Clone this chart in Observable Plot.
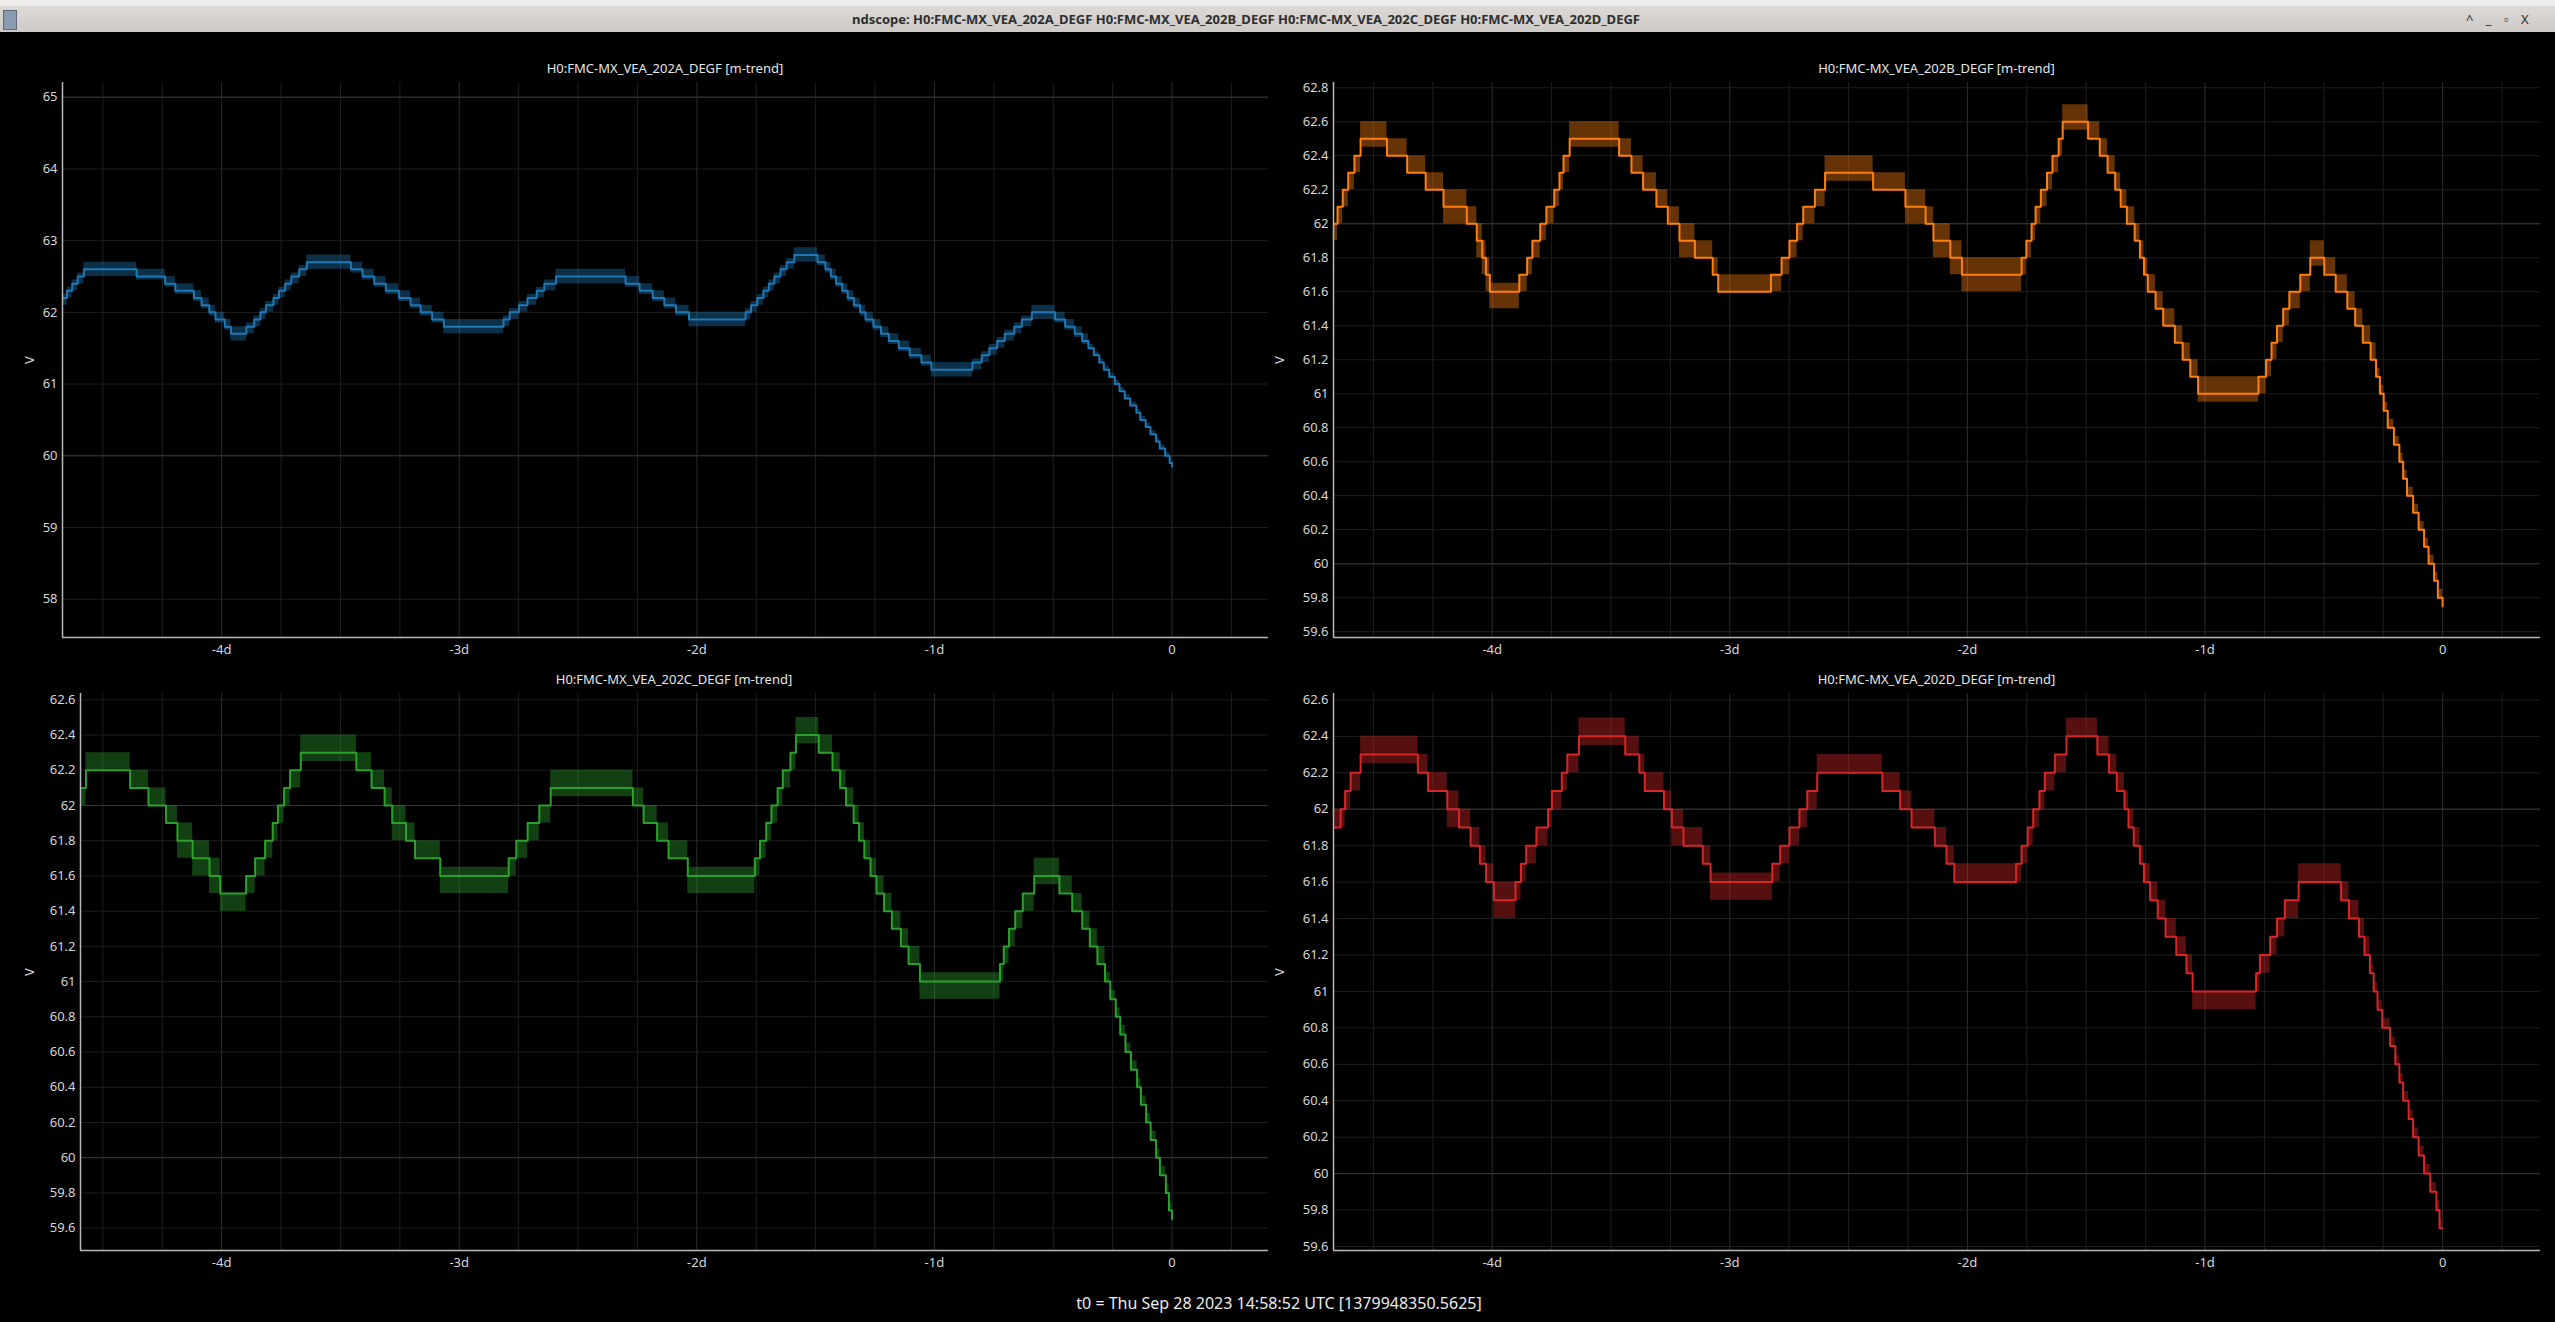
<!DOCTYPE html>
<html><head><meta charset="utf-8">
<script src="https://cdn.jsdelivr.net/npm/d3@7"></script>
<script src="https://cdn.jsdelivr.net/npm/@observablehq/plot@0.6"></script>
<style>
html,body{margin:0;padding:0;background:#000;}
body{width:2555px;height:1322px;overflow:hidden;position:relative;font-family:"Noto Sans",sans-serif;}
.abs{position:absolute;}
#strip{left:0;top:0;width:2555px;height:6px;background:#eeedec;}
#bar{left:0;top:6px;width:2555px;height:26px;background:linear-gradient(#dcd9d7,#cdc9c6);}
#wtitle{left:0;top:6px;width:2492px;height:26px;line-height:26px;text-align:center;font-size:13px;font-weight:bold;color:#2e2e2e;white-space:nowrap;}
#wbtn{left:2466px;top:6px;height:26px;line-height:26px;font-size:13px;color:#2e2e2e;word-spacing:9px;white-space:nowrap;}
.ptitle{font-size:13px;color:#e6e6e6;white-space:nowrap;transform:translate(-50%,-50%);}
.vlab{font-size:13px;color:#d8d8d8;transform:translate(-50%,-50%) rotate(-90deg);}
#caption{font-size:16px;color:#ececec;white-space:nowrap;transform:translate(-50%,-50%);}
</style></head><body>
<div id="strip" class="abs"></div>
<div id="bar" class="abs"></div>
<div class="abs" style="left:3px;top:10px;width:12px;height:18px;background:#8a9bb0;border:1px solid #5d6b7c"></div>
<div id="wtitle" class="abs">ndscope: H0:FMC-MX_VEA_202A_DEGF H0:FMC-MX_VEA_202B_DEGF H0:FMC-MX_VEA_202C_DEGF H0:FMC-MX_VEA_202D_DEGF</div>
<div id="wbtn" class="abs">^ _ ▫ X</div>
<script>
// ---------- tick / grid values ----------
const xTicks = [-4, -3, -2, -1, 0];
const xGridMinor = [-4.5, -4.25, -3.75, -3.5, -3.25, -2.75, -2.5, -2.25, -1.75, -1.5, -1.25, -0.75, -0.5, -0.25, 0.25];
const yTicksA = [58, 59, 60, 61, 62, 63, 64, 65];
const yMajorA = [60, 65];
const yTicksB = [59.6, 59.8, 60, 60.2, 60.4, 60.6, 60.8, 61, 61.2, 61.4, 61.6, 61.8, 62, 62.2, 62.4, 62.6, 62.8];
const yTicksCD = [59.6, 59.8, 60, 60.2, 60.4, 60.6, 60.8, 61, 61.2, 61.4, 61.6, 61.8, 62, 62.2, 62.4, 62.6];
const yMajorBCD = [60, 62];

// ---------- channel names ----------
const channels = ["H0:FMC-MX_VEA_202A_DEGF", "H0:FMC-MX_VEA_202B_DEGF", "H0:FMC-MX_VEA_202C_DEGF", "H0:FMC-MX_VEA_202D_DEGF"];
const colors = ["#1f77b4", "#ff7f0e", "#2ca02c", "#d62728"];

// ---------- 202A (days relative to t0; mean / min / max of minute trend) ----------
const tA = [-4.678,-4.651,-4.629,-4.606,-4.580,
  -4.358,-4.238,-4.195,-4.117,-4.085,-4.052,-4.026,-3.987,-3.961,
  -3.896,-3.863,-3.837,-3.814,-3.782,-3.759,-3.733,-3.707,-3.674,-3.642,
  -3.456,-3.407,-3.358,-3.309,-3.254,-3.205,-3.163,-3.114,-3.065,
  -2.814,-2.788,-2.749,-2.713,-2.674,-2.642,-2.593,
  -2.300,-2.241,-2.186,-2.137,-2.088,-2.033,
  -1.795,-1.772,-1.746,-1.720,-1.697,-1.674,-1.648,-1.622,-1.590,
  -1.492,-1.459,-1.436,-1.414,-1.388,-1.365,-1.339,-1.313,-1.290,-1.257,-1.225,-1.192,-1.150,-1.104,-1.055,-1.013,
  -0.840,-0.801,-0.769,-0.736,-0.704,-0.664,-0.632,-0.590,
  -0.492,-0.450,-0.410,-0.378,-0.352,-0.329,-0.306,-0.287,-0.264,-0.241,-0.221,-0.199,-0.176,-0.150,-0.134,-0.111,-0.091,-0.068,-0.052,-0.029,-0.010,0];
const meanA = [62.2,62.3,62.4,62.5,62.6,
  62.5,62.4,62.3,62.2,62.1,62.0,61.9,61.8,61.7,
  61.8,61.9,62.0,62.1,62.2,62.3,62.4,62.5,62.6,62.7,
  62.6,62.5,62.4,62.3,62.2,62.1,62.0,61.9,61.8,
  61.9,62.0,62.1,62.2,62.3,62.4,62.5,
  62.4,62.3,62.2,62.1,62.0,61.9,
  62.0,62.1,62.2,62.3,62.4,62.5,62.6,62.7,62.8,
  62.7,62.6,62.5,62.4,62.3,62.2,62.1,62.0,61.9,61.8,61.7,61.6,61.5,61.4,61.3,61.2,
  61.3,61.4,61.5,61.6,61.7,61.8,61.9,62.0,
  61.9,61.8,61.7,61.6,61.5,61.4,61.3,61.2,61.1,61.0,60.9,60.8,60.7,60.6,60.5,60.4,60.3,60.2,60.1,60.0,59.9,59.85];
const loA = [62.1,62.2,62.3,62.4,62.5,
  62.45,62.35,62.25,62.15,62.05,61.95,61.85,61.75,61.6,
  61.7,61.8,61.9,62.0,62.1,62.2,62.3,62.4,62.5,62.6,
  62.55,62.45,62.35,62.25,62.15,62.05,61.95,61.85,61.7,
  61.8,61.9,62.0,62.1,62.2,62.3,62.4,
  62.35,62.25,62.15,62.05,61.95,61.8,
  61.9,62.0,62.1,62.2,62.3,62.4,62.5,62.6,62.7,
  62.65,62.55,62.45,62.35,62.25,62.15,62.05,61.95,61.85,61.75,61.65,61.55,61.45,61.35,61.25,61.1,
  61.2,61.3,61.4,61.5,61.6,61.7,61.8,61.9,
  61.85,61.75,61.65,61.55,61.5,61.4,61.3,61.2,61.1,61.0,60.9,60.8,60.7,60.6,60.5,60.4,60.3,60.2,60.1,60.0,59.9,59.85];
const hiA = [62.25,62.35,62.45,62.55,62.7,
  62.6,62.5,62.4,62.3,62.2,62.1,62.0,61.9,61.8,
  61.85,61.95,62.05,62.15,62.25,62.35,62.45,62.55,62.65,62.8,
  62.7,62.6,62.5,62.4,62.3,62.2,62.1,62.0,61.9,
  61.95,62.05,62.15,62.25,62.35,62.45,62.6,
  62.5,62.4,62.3,62.2,62.1,62.0,
  62.05,62.15,62.25,62.35,62.45,62.55,62.65,62.75,62.9,
  62.8,62.7,62.6,62.5,62.4,62.3,62.2,62.1,62.0,61.9,61.8,61.7,61.6,61.5,61.4,61.3,
  61.35,61.45,61.55,61.65,61.75,61.85,61.95,62.1,
  62.0,61.9,61.8,61.7,61.55,61.45,61.35,61.25,61.15,61.05,60.95,60.85,60.75,60.65,60.55,60.45,60.35,60.25,60.15,60.05,59.95,59.9];

// ---------- 202B ----------
const tB = [-4.678,-4.651,-4.629,-4.606,-4.580,-4.554,
  -4.443,-4.358,-4.280,-4.205,-4.107,-4.065,-4.042,-4.026,-4.010,
  -3.886,-3.853,-3.831,-3.798,-3.772,-3.739,-3.717,-3.700,-3.674,
  -3.466,-3.414,-3.365,-3.309,-3.261,-3.212,-3.147,-3.072,-3.049,
  -2.827,-2.782,-2.749,-2.717,-2.691,-2.642,-2.599,
  -2.397,-2.261,-2.176,-2.143,-2.072,-2.023,
  -1.772,-1.752,-1.730,-1.713,-1.691,-1.665,-1.642,-1.616,-1.599,
  -1.492,-1.443,-1.410,-1.378,-1.355,-1.329,-1.296,-1.274,-1.257,-1.241,-1.208,-1.176,-1.127,-1.094,-1.062,-1.029,
  -0.775,-0.743,-0.720,-0.697,-0.671,-0.645,-0.599,-0.557,
  -0.498,-0.450,-0.401,-0.368,-0.336,-0.303,-0.280,-0.264,-0.248,-0.231,-0.205,-0.182,-0.166,-0.150,-0.124,-0.101,-0.078,-0.059,-0.036,-0.020,0];
const meanB = [62.0,62.1,62.2,62.3,62.4,62.5,
  62.4,62.3,62.2,62.1,62.0,61.9,61.8,61.7,61.6,
  61.7,61.8,61.9,62.0,62.1,62.2,62.3,62.4,62.5,
  62.4,62.3,62.2,62.1,62.0,61.9,61.8,61.7,61.6,
  61.7,61.8,61.9,62.0,62.1,62.2,62.3,
  62.2,62.1,62.0,61.9,61.8,61.7,
  61.8,61.9,62.0,62.1,62.2,62.3,62.4,62.5,62.6,
  62.5,62.4,62.3,62.2,62.1,62.0,61.9,61.8,61.7,61.6,61.5,61.4,61.3,61.2,61.1,61.0,
  61.1,61.2,61.3,61.4,61.5,61.6,61.7,61.8,
  61.7,61.6,61.5,61.4,61.3,61.2,61.1,61.0,60.9,60.8,60.7,60.6,60.5,60.4,60.3,60.2,60.1,60.0,59.9,59.8,59.75];
const loB = [61.9,62.0,62.1,62.2,62.3,62.45,
  62.4,62.3,62.2,62.0,62.0,61.8,61.7,61.6,61.5,
  61.6,61.7,61.8,61.9,62.0,62.1,62.2,62.3,62.45,
  62.4,62.3,62.2,62.1,62.0,61.8,61.8,61.7,61.6,
  61.6,61.7,61.8,61.9,62.0,62.1,62.25,
  62.2,62.0,62.0,61.8,61.7,61.6,
  61.7,61.8,61.9,62.0,62.1,62.2,62.3,62.4,62.55,
  62.5,62.4,62.3,62.2,62.1,62.0,61.9,61.8,61.7,61.6,61.5,61.4,61.3,61.2,61.1,60.95,
  61.0,61.1,61.2,61.3,61.4,61.5,61.6,61.75,
  61.7,61.6,61.5,61.4,61.3,61.2,61.1,61.0,60.9,60.8,60.7,60.6,60.5,60.4,60.3,60.2,60.1,60.0,59.9,59.8,59.75];
const hiB = [62.0,62.1,62.2,62.3,62.4,62.6,
  62.5,62.4,62.3,62.2,62.1,62.0,61.9,61.8,61.65,
  61.7,61.8,61.9,62.0,62.1,62.2,62.3,62.4,62.6,
  62.5,62.4,62.3,62.2,62.1,62.0,61.9,61.8,61.7,
  61.7,61.8,61.9,62.0,62.1,62.2,62.4,
  62.3,62.2,62.1,62.0,61.9,61.8,
  61.8,61.9,62.0,62.1,62.2,62.3,62.4,62.5,62.7,
  62.6,62.5,62.4,62.3,62.2,62.1,62.0,61.9,61.8,61.7,61.6,61.5,61.4,61.3,61.2,61.1,
  61.1,61.2,61.3,61.4,61.5,61.6,61.7,61.9,
  61.8,61.7,61.6,61.5,61.4,61.3,61.15,61.05,60.95,60.85,60.75,60.65,60.55,60.45,60.35,60.25,60.15,60.05,59.95,59.85,59.8];

// ---------- 202C ----------
const tC = [-4.680,-4.571,-4.385,-4.308,-4.234,-4.186,-4.122,-4.051,-4.006,
  -3.897,-3.859,-3.817,-3.785,-3.763,-3.737,-3.712,-3.667,
  -3.433,-3.369,-3.314,-3.282,-3.224,-3.186,-3.080,
  -2.792,-2.760,-2.712,-2.663,-2.615,
  -2.269,-2.224,-2.167,-2.119,-2.038,
  -1.756,-1.734,-1.708,-1.686,-1.660,-1.638,-1.606,-1.583,
  -1.487,-1.429,-1.397,-1.372,-1.340,-1.317,-1.295,-1.269,-1.244,-1.212,-1.179,-1.141,-1.109,-1.061,
  -0.724,-0.708,-0.686,-0.660,-0.628,-0.580,
  -0.474,-0.420,-0.378,-0.346,-0.314,-0.282,-0.260,-0.237,-0.218,-0.196,-0.173,-0.147,-0.131,-0.109,-0.090,-0.067,-0.051,-0.026,-0.013,0];
const meanC = [62.1,62.2,62.1,62.0,61.9,61.8,61.7,61.6,61.5,
  61.6,61.7,61.8,61.9,62.0,62.1,62.2,62.3,
  62.2,62.1,62.0,61.9,61.8,61.7,61.6,
  61.7,61.8,61.9,62.0,62.1,
  62.0,61.9,61.8,61.7,61.6,
  61.7,61.8,61.9,62.0,62.1,62.2,62.3,62.4,
  62.3,62.2,62.1,62.0,61.9,61.8,61.7,61.6,61.5,61.4,61.3,61.2,61.1,61.0,
  61.1,61.2,61.3,61.4,61.5,61.6,
  61.5,61.4,61.3,61.2,61.1,61.0,60.9,60.8,60.7,60.6,60.5,60.4,60.3,60.2,60.1,60.0,59.9,59.8,59.7,59.65];
const loC = [62.0,62.2,62.1,62.0,61.9,61.7,61.6,61.5,61.4,
  61.5,61.6,61.7,61.8,61.9,62.0,62.1,62.25,
  62.2,62.1,62.0,61.8,61.8,61.7,61.5,
  61.6,61.7,61.8,61.9,62.05,
  62.0,61.9,61.8,61.7,61.5,
  61.6,61.7,61.8,61.9,62.0,62.1,62.2,62.35,
  62.3,62.2,62.1,62.0,61.9,61.8,61.7,61.6,61.5,61.4,61.3,61.2,61.1,60.9,
  61.0,61.1,61.2,61.3,61.4,61.55,
  61.5,61.4,61.3,61.2,61.1,61.0,60.9,60.8,60.7,60.6,60.5,60.4,60.3,60.2,60.1,60.0,59.9,59.8,59.7,59.65];
const hiC = [62.1,62.3,62.2,62.1,62.0,61.9,61.8,61.7,61.5,
  61.6,61.7,61.8,61.9,62.0,62.1,62.2,62.4,
  62.3,62.2,62.1,62.0,61.9,61.8,61.65,
  61.7,61.8,61.9,62.0,62.2,
  62.1,62.0,61.9,61.8,61.65,
  61.7,61.8,61.9,62.0,62.1,62.2,62.3,62.5,
  62.4,62.3,62.2,62.1,62.0,61.9,61.8,61.7,61.6,61.5,61.4,61.3,61.2,61.05,
  61.1,61.2,61.3,61.4,61.5,61.7,
  61.6,61.5,61.4,61.3,61.2,61.05,60.95,60.85,60.75,60.65,60.55,60.45,60.35,60.25,60.15,60.05,59.95,59.85,59.75,59.7];

// ---------- 202D ----------
const tD = [-4.678,-4.638,-4.619,-4.596,-4.554,
  -4.313,-4.270,-4.189,-4.140,-4.091,-4.052,-4.026,-3.993,
  -3.902,-3.879,-3.857,-3.814,-3.765,-3.749,-3.707,-3.684,-3.635,
  -3.440,-3.381,-3.358,-3.277,-3.244,-3.195,-3.114,-3.081,
  -2.821,-2.788,-2.749,-2.707,-2.674,-2.632,
  -2.358,-2.283,-2.235,-2.137,-2.088,-2.055,
  -1.795,-1.772,-1.746,-1.723,-1.697,-1.674,-1.632,-1.583,
  -1.453,-1.404,-1.371,-1.339,-1.322,-1.300,-1.274,-1.257,-1.231,-1.199,-1.166,-1.121,-1.078,-1.052,
  -0.785,-0.769,-0.726,-0.697,-0.664,-0.606,
  -0.427,-0.394,-0.352,-0.329,-0.306,-0.290,-0.274,-0.254,-0.221,-0.199,-0.182,-0.166,-0.143,-0.124,-0.101,-0.078,-0.052,-0.026,-0.013,0];
const meanD = [61.9,62.0,62.1,62.2,62.3,
  62.2,62.1,62.0,61.9,61.8,61.7,61.6,61.5,
  61.6,61.7,61.8,61.9,62.0,62.1,62.2,62.3,62.4,
  62.3,62.2,62.1,62.0,61.9,61.8,61.7,61.6,
  61.7,61.8,61.9,62.0,62.1,62.2,
  62.1,62.0,61.9,61.8,61.7,61.6,
  61.7,61.8,61.9,62.0,62.1,62.2,62.3,62.4,
  62.3,62.2,62.1,62.0,61.9,61.8,61.7,61.6,61.5,61.4,61.3,61.2,61.1,61.0,
  61.1,61.2,61.3,61.4,61.5,61.6,
  61.5,61.4,61.3,61.2,61.1,61.0,60.9,60.8,60.7,60.6,60.5,60.4,60.3,60.2,60.1,60.0,59.9,59.8,59.7,59.7];
const loD = [61.9,61.9,62.0,62.1,62.25,
  62.2,62.1,61.9,61.9,61.8,61.7,61.6,61.4,
  61.5,61.6,61.7,61.8,61.9,62.0,62.1,62.2,62.35,
  62.3,62.2,62.1,62.0,61.8,61.8,61.7,61.5,
  61.6,61.7,61.8,61.9,62.0,62.2,
  62.1,62.0,61.9,61.8,61.7,61.6,
  61.6,61.7,61.8,61.9,62.0,62.1,62.2,62.4,
  62.3,62.2,62.1,62.0,61.9,61.8,61.7,61.6,61.5,61.4,61.3,61.2,61.1,60.9,
  61.0,61.1,61.2,61.3,61.4,61.6,
  61.5,61.4,61.3,61.2,61.1,61.0,60.9,60.8,60.7,60.6,60.5,60.4,60.3,60.2,60.1,60.0,59.9,59.8,59.7,59.7];
const hiD = [62.0,62.0,62.1,62.2,62.4,
  62.3,62.2,62.1,62.0,61.9,61.8,61.7,61.6,
  61.6,61.7,61.8,61.9,62.0,62.1,62.2,62.3,62.5,
  62.4,62.3,62.2,62.1,62.0,61.9,61.8,61.65,
  61.7,61.8,61.9,62.0,62.1,62.3,
  62.2,62.1,62.0,61.9,61.8,61.7,
  61.7,61.8,61.9,62.0,62.1,62.2,62.3,62.5,
  62.4,62.3,62.2,62.1,62.0,61.9,61.8,61.7,61.6,61.5,61.4,61.3,61.2,61.0,
  61.1,61.2,61.3,61.4,61.5,61.7,
  61.6,61.5,61.4,61.3,61.15,61.05,60.95,60.85,60.75,60.65,60.55,60.45,60.35,60.25,60.15,60.05,59.95,59.85,59.75,59.75];

const caption = "t0 = Thu Sep 28 2023 14:58:52 UTC [1379948350.5625]";

// ---------- drawing ----------
const fmtX = d => d === 0 ? "0" : `${d}d`;
const fmtY = d => String(Math.round(d * 10) / 10);

function addDiv(cls, text, x, y) {
  const el = document.createElement("div");
  el.className = "abs " + cls;
  el.textContent = text;
  el.style.left = x + "px";
  el.style.top = y + "px";
  document.body.appendChild(el);
  return el;
}

function panel(cfg) {
  const data = cfg.t.map((t, i) => ({t, v: cfg.mean[i], lo: cfg.lo[i], hi: cfg.hi[i]}));
  const [x0, x1] = cfg.xDomain;
  const inX = a => a.filter(d => d > x0 && d < x1);
  const chart = Plot.plot({
    width: cfg.width, height: cfg.height,
    marginLeft: cfg.mL, marginRight: cfg.mR, marginTop: cfg.mT, marginBottom: cfg.mB,
    style: {background: "#000", color: "#d6d6d6", fontFamily: "Noto Sans", fontSize: "13px"},
    x: {domain: cfg.xDomain, ticks: xTicks, tickFormat: fmtX, tickSize: 0, tickPadding: 7, label: null},
    y: {domain: cfg.yDomain, ticks: cfg.yTicks, tickFormat: fmtY, tickSize: 0, tickPadding: 5, label: null},
    marks: [
      Plot.ruleY(cfg.yTicks, {stroke: "#1e1e1e"}),
      Plot.ruleX(inX(xGridMinor), {stroke: "#1e1e1e"}),
      Plot.ruleX(inX(xTicks), {stroke: "#2c2c2c"}),
      Plot.ruleY(cfg.yMajor, {stroke: "#383838"}),
      Plot.areaY(data, {x: "t", y1: "lo", y2: "hi", curve: "step-after", fill: cfg.color, fillOpacity: 0.4, clip: true}),
      Plot.line(data, {x: "t", y: "v", curve: "step-after", stroke: cfg.color, strokeWidth: 2, clip: true}),
      Plot.ruleX([x0], {stroke: "#b8b8b8", strokeWidth: 1.5}),
      Plot.ruleY([cfg.yDomain[0]], {stroke: "#b8b8b8", strokeWidth: 1.5})
    ]
  });
  chart.style.position = "absolute";
  chart.style.left = cfg.left + "px";
  chart.style.top = cfg.top + "px";
  document.body.appendChild(chart);
  const cx = cfg.left + cfg.mL + (cfg.width - cfg.mL - cfg.mR) / 2;
  addDiv("ptitle", cfg.title, cx, cfg.top + cfg.mT - 14);
  addDiv("vlab", "V", cfg.vx, cfg.top + cfg.mT + (cfg.height - cfg.mT - cfg.mB) / 2);
}

panel({left: 0, top: 60, width: 1270, height: 600, mL: 62, mR: 2, mT: 22, mB: 23,
  xDomain: [-4.670, 0.406], yDomain: [57.466, 65.205], yTicks: yTicksA, yMajor: yMajorA,
  t: tA, mean: meanA, lo: loA, hi: hiA, color: colors[0], title: channels[0] + " [m-trend]", vx: 29});
panel({left: 1270, top: 60, width: 1285, height: 600, mL: 63, mR: 15, mT: 22, mB: 23,
  xDomain: [-4.668, 0.412], yDomain: [59.566, 62.831], yTicks: yTicksB, yMajor: yMajorBCD,
  t: tB, mean: meanB, lo: loB, hi: hiB, color: colors[1], title: channels[1] + " [m-trend]", vx: 1279});
panel({left: 0, top: 670, width: 1270, height: 610, mL: 80, mR: 2, mT: 23, mB: 30,
  xDomain: [-4.594, 0.406], yDomain: [59.473, 62.636], yTicks: yTicksCD, yMajor: yMajorBCD,
  t: tC, mean: meanC, lo: loC, hi: hiC, color: colors[2], title: channels[2] + " [m-trend]", vx: 29});
panel({left: 1270, top: 670, width: 1285, height: 610, mL: 63, mR: 15, mT: 23, mB: 30,
  xDomain: [-4.668, 0.412], yDomain: [59.578, 62.635], yTicks: yTicksCD, yMajor: yMajorBCD,
  t: tD, mean: meanD, lo: loD, hi: hiD, color: colors[3], title: channels[3] + " [m-trend]", vx: 1279});

addDiv("", caption, 1279, 1303).id = "caption";
</script>
</body></html>
